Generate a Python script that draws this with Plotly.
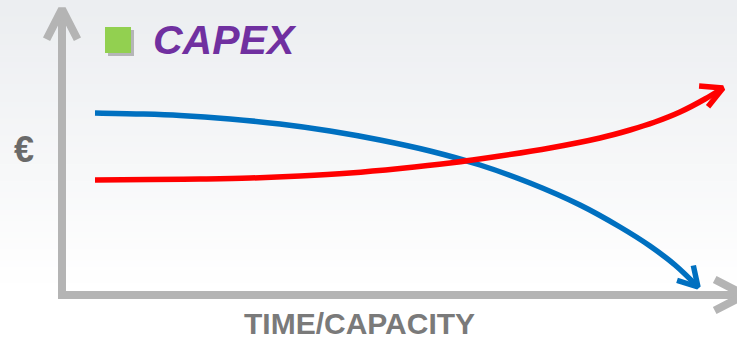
import numpy as np
import plotly.graph_objects as go

W, H = 737, 341

# ---- data (pixel-space coordinates of the schematic) ----
blue_x = [95, 140, 180, 230, 280, 330, 380, 430, 480, 530, 580, 620, 650, 675, 698]
blue_y = [113, 114, 115.5, 119, 124, 131, 140, 151, 165, 183, 205, 227, 246, 265, 287]
red_x = [95, 150, 200, 250, 300, 350, 400, 450, 500, 550, 600, 630, 655, 680, 705, 723]
red_y = [180, 179.6, 179, 178, 176, 173, 168.5, 163, 156, 148, 138, 130, 122, 112, 99, 88]
yaxis_pts_x = [62, 62]
yaxis_pts_y = [296, 9]
xaxis_pts_x = [58, 745]
xaxis_pts_y = [295, 295]

title_text = "CAPEX"
ylabel_text = "€"
xlabel_text = "TIME/CAPACITY"

BLUE = "#0070C0"
RED = "#FF0000"
GRAY = "#B4B4B4"

fig = go.Figure()

# background gradient
n = 60
top = np.array([236, 238, 241])
bot = np.array([255, 255, 255])
shapes = []
for i in range(n):
    t = i / (n - 1)
    c = top + (bot - top) * min(1, t * 1.2)
    shapes.append(dict(type="rect", xref="paper", yref="paper", x0=0, x1=1,
                       y0=1 - (i + 1) / n, y1=1 - i / n + 0.002, line_width=0,
                       fillcolor="rgb(%d,%d,%d)" % tuple(c), layer="below"))


def chevron(xs, ys, length, half_angle_deg, extra_turn_deg=0.0):
    tx, ty = xs[-1], ys[-1]
    px, py = xs[-2], ys[-2]
    dx, dy = px - tx, py - ty
    d = np.hypot(dx, dy)
    dx, dy = dx / d, dy / d
    arms = []
    for s in (1, -1):
        a = np.radians(s * half_angle_deg + extra_turn_deg)
        ca, sa = np.cos(a), np.sin(a)
        ax = dx * ca - dy * sa
        ay = dx * sa + dy * ca
        arms.append((tx + ax * length, ty + ay * length))
    return [arms[0][0], tx, arms[1][0]], [arms[0][1], ty, arms[1][1]]


def add_line(xs, ys, color, width, shape="linear"):
    fig.add_trace(go.Scatter(x=xs, y=ys, mode="lines", hoverinfo="skip",
                             line=dict(color=color, width=width, shape=shape,
                                       smoothing=1.0 if shape == "spline" else None)))


# axes
add_line(yaxis_pts_x, yaxis_pts_y, GRAY, 8)
cx, cy = chevron(yaxis_pts_x, yaxis_pts_y, 34, 27)
add_line(cx, cy, GRAY, 8)
add_line(xaxis_pts_x, xaxis_pts_y, GRAY, 8)
cx, cy = chevron(xaxis_pts_x, xaxis_pts_y, 34, 27)
add_line(cx, cy, GRAY, 8)

# curves
add_line(blue_x, blue_y, BLUE, 5.5, "spline")
cx, cy = chevron(blue_x, blue_y, 22, 30, 4)
add_line(cx, cy, BLUE, 5.5)
add_line(red_x, red_y, RED, 5.5, "spline")
cx, cy = chevron(red_x, red_y, 24, 28, 8)
add_line(cx, cy, RED, 5.5)

# green legend square with shadow
shapes.append(dict(type="rect", xref="x", yref="y", x0=108, x1=134, y0=30, y1=56,
                   line_width=0, fillcolor="rgba(110,110,110,0.45)"))
shapes.append(dict(type="rect", xref="x", yref="y", x0=105, x1=131, y0=27, y1=53,
                   line_width=0, fillcolor="#92D050"))

annotations = [
    dict(x=151, y=40, xref="x", yref="y", text="<b><i>" + title_text + "</i></b>",
         showarrow=False, xanchor="left", yanchor="middle",
         font=dict(family="Liberation Sans, Arial", size=41, color="#7030A0")),
    dict(x=24, y=149, xref="x", yref="y", text="<b>" + ylabel_text + "</b>",
         showarrow=False, xanchor="center", yanchor="middle",
         font=dict(family="Liberation Sans, Arial", size=36, color="#6A6A6A")),
    dict(x=359, y=323, xref="x", yref="y", text="<b>" + xlabel_text + "</b>",
         showarrow=False, xanchor="center", yanchor="middle", borderpad=0,
         font=dict(family="Liberation Sans, Arial", size=30, color="#7A7A7A")),
]

fig.update_layout(
    width=W, height=H, margin=dict(l=0, r=0, t=0, b=0),
    paper_bgcolor="white", plot_bgcolor="rgba(0,0,0,0)",
    showlegend=False, shapes=shapes, annotations=annotations,
    xaxis=dict(range=[0, W], visible=False, fixedrange=True),
    yaxis=dict(range=[H, 0], visible=False, fixedrange=True),
)

fig.write_html("out.html", config={"displayModeBar": False})
